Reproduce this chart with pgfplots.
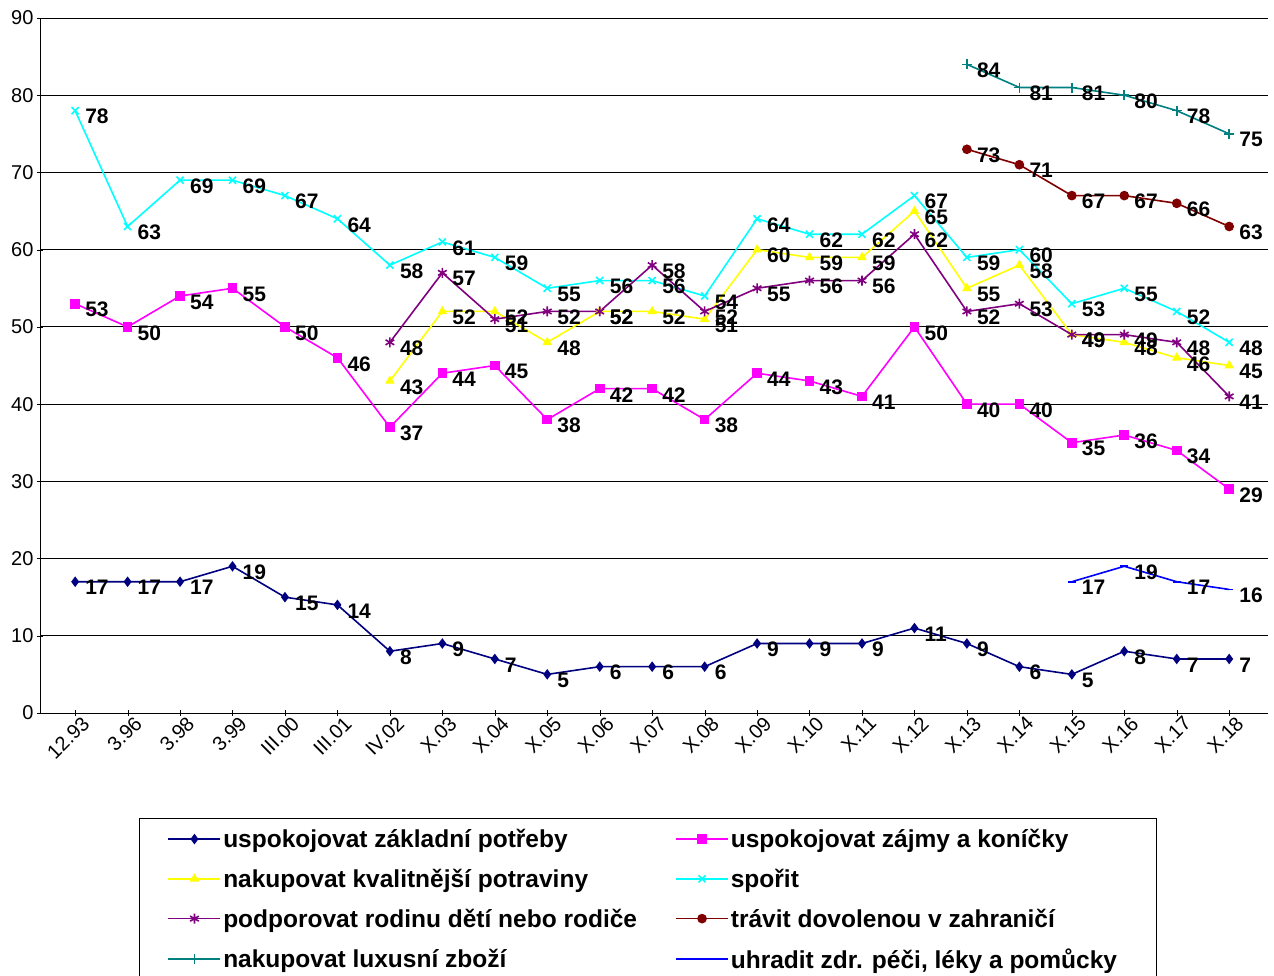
\documentclass[border=0pt]{standalone}
\usepackage{pgfplots}
\pgfplotsset{compat=1.18}
\usepackage{fontspec}
\setmainfont{Liberation Sans}
\definecolor{c1}{HTML}{000080}
\definecolor{c2}{HTML}{FF00FF}
\definecolor{c3}{HTML}{FFFF00}
\definecolor{c4}{HTML}{00FFFF}
\definecolor{c5}{HTML}{800080}
\definecolor{c6}{HTML}{800000}
\definecolor{c7}{HTML}{008080}
\definecolor{c8}{HTML}{0000FF}
\newcommand{\lw}[1]{\makebox[450pt][l]{#1}}
\begin{document}
\begin{tikzpicture}
\useasboundingbox (-40pt,-262pt) rectangle (1234pt,713pt);
\clip (-40pt,-262pt) rectangle (1234pt,713pt);
\begin{axis}[
  at={(0,0)}, anchor=south west,
  scale only axis, width=1228pt, height=695pt,
  xmin=-0.67, xmax=22.74, ymin=0, ymax=90,
  ytick={0,10,...,90}, ymajorgrids, grid style={black, line width=0.8pt},
  axis x line=bottom, axis y line=left, axis line style={-, line width=0.8pt},
  xtick={0,...,22},
  xticklabels={12.93,3.96,3.98,3.99,III.00,III.01,IV.02,X.03,X.04,X.05,X.06,X.07,X.08,X.09,X.10,X.11,X.12,X.13,X.14,X.15,X.16,X.17,X.18},
  x tick label style={rotate=45, anchor=north east, font=\fontsize{20}{22}\selectfont, xshift=8pt},
  y tick label style={font=\fontsize{20}{22}\selectfont},
  /pgf/number format/assume math mode=true,
  tick style={black}, major tick length=6pt,
  nodes near coords, every node near coord/.append style={font=\fontsize{21}{24}\selectfont\bfseries, black, anchor=west, xshift=6pt, yshift=-6pt},
  legend style={at={(0.081,-0.151)}, anchor=north west, legend columns=2, font=\fontsize{24.5}{28}\selectfont\bfseries, draw=black, row sep=16pt, inner xsep=28pt, inner ysep=9pt},
  legend cell align=left,
  legend image code/.code={\draw[mark repeat=2,mark phase=2] plot coordinates {(0pt,0pt)(26pt,0pt)(52pt,0pt)};},
  every axis plot/.append style={line width=1.6pt, mark size=4pt},
]
\addplot[c1, mark=diamond*] coordinates {(0,17)(1,17)(2,17)(3,19)(4,15)(5,14)(6,8)(7,9)(8,7)(9,5)(10,6)(11,6)(12,6)(13,9)(14,9)(15,9)(16,11)(17,9)(18,6)(19,5)(20,8)(21,7)(22,7)};
\addlegendentry{\lw{uspokojovat základní potřeby}}
\addplot[c2, mark=square*] coordinates {(0,53)(1,50)(2,54)(3,55)(4,50)(5,46)(6,37)(7,44)(8,45)(9,38)(10,42)(11,42)(12,38)(13,44)(14,43)(15,41)(16,50)(17,40)(18,40)(19,35)(20,36)(21,34)(22,29)};
\addlegendentry{\makebox[395pt][l]{uspokojovat zájmy a koníčky}}
\addplot[c3, mark=triangle*] coordinates {(6,43)(7,52)(8,52)(9,48)(10,52)(11,52)(12,51)(13,60)(14,59)(15,59)(16,65)(17,55)(18,58)(19,49)(20,48)(21,46)(22,45)};
\addlegendentry{\lw{nakupovat kvalitnější potraviny}}
\addplot[c4, mark=x, mark size=5pt] coordinates {(0,78)(1,63)(2,69)(3,69)(4,67)(5,64)(6,58)(7,61)(8,59)(9,55)(10,56)(11,56)(12,54)(13,64)(14,62)(15,62)(16,67)(17,59)(18,60)(19,53)(20,55)(21,52)(22,48)};
\addlegendentry{spořit}
\addplot[c5, mark=asterisk, mark size=5pt] coordinates {(6,48)(7,57)(8,51)(9,52)(10,52)(11,58)(12,52)(13,55)(14,56)(15,56)(16,62)(17,52)(18,53)(19,49)(20,49)(21,48)(22,41)};
\addlegendentry{\lw{podporovat rodinu dětí nebo rodiče}}
\addplot[c6, mark=*] coordinates {(17,73)(18,71)(19,67)(20,67)(21,66)(22,63)};
\addlegendentry{trávit dovolenou v zahraničí}
\addplot[c7, mark=+, mark size=5pt] coordinates {(17,84)(18,81)(19,81)(20,80)(21,78)(22,75)};
\addlegendentry{\lw{nakupovat luxusní zboží}}
\addplot[c8, mark=-, mark size=4pt] coordinates {(19,17)(20,19)(21,17)(22,16)};
\addlegendentry{uhradit zdr. péči, léky a pomůcky}
\end{axis}
\end{tikzpicture}
\end{document}
